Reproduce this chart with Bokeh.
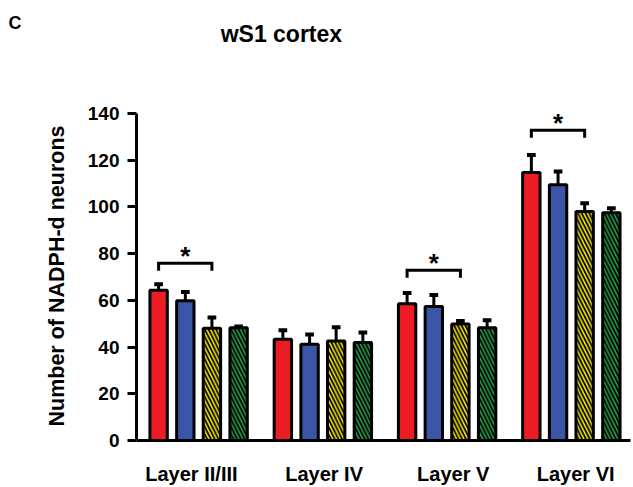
import numpy as np
from bokeh.plotting import figure
from bokeh.models import Range1d, FixedTicker, ColumnDataSource, Title
from bokeh.core.properties import value
from bokeh.embed import file_html
from bokeh.resources import INLINE

categories = ["Layer II/III", "Layer IV", "Layer V", "Layer VI"]
series_names = ["red", "blue", "yellow", "green"]
red_vals = [64.3, 43.3, 58.5, 114.7]
red_err = [2.5, 3.9, 4.6, 7.5]
blue_vals = [59.8, 41.2, 57.3, 109.4]
blue_err = [3.7, 4.2, 5.0, 5.7]
yellow_vals = [48.0, 42.6, 49.8, 98.0]
yellow_err = [4.6, 5.8, 1.3, 3.5]
green_vals = [48.2, 41.9, 48.2, 97.4]
green_err = [0.6, 4.3, 3.3, 2.0]
y_ticks = [0, 20, 40, 60, 80, 100, 120, 140]
sig_groups = [0, 2, 3]
sig_y = [75.8, 72.8, 132.7]
title_text = "wS1 cortex"
panel_letter = "C"
y_label = "Number of NADPH-d neurons"

FONT = "Liberation Sans"
colors = ["#ed1c24", "#3a55a5", "#fbee00", "#28a04a"]
hatches = [" ", " ", "\\", "\\"]
offsets = [-0.322, -0.107, 0.107, 0.322]
label_shift = [-0.058, 0.01, 0.049, 0.035]
vals = [red_vals, blue_vals, yellow_vals, green_vals]
errs = [red_err, blue_err, yellow_err, green_err]

p = figure(width=633, height=487, output_backend="svg", toolbar_location=None,
           x_range=Range1d(0, 3.976), y_range=Range1d(0, 180.55),
           min_border_left=136, min_border_right=3, min_border_top=18, min_border_bottom=46)
p.outline_line_color = None
p.xgrid.visible = False
p.ygrid.visible = False

p.title.text = panel_letter
p.title.align = "left"
p.title.offset = -128
p.title.standoff = -28
p.title.text_font = FONT
p.title.text_font_style = "bold"
p.title.text_font_size = "18px"
p.title.text_color = "black"

centers = np.arange(len(categories)) + 0.5
bw = 0.14
for i in range(4):
    xs = centers + offsets[i]
    top = np.array(vals[i])
    etop = top + np.array(errs[i])
    p.segment(x0=xs, y0=top, x1=xs, y1=etop, line_color="black", line_width=3)
    p.segment(x0=xs - 0.035, y0=etop, x1=xs + 0.035, y1=etop, line_color="black", line_width=4)
    src = ColumnDataSource(dict(x=xs, top=top))
    kw = {}
    if hatches[i] != " ":
        kw = dict(hatch_pattern=hatches[i], hatch_color="black", hatch_scale=7.5, hatch_weight=1.8)
    p.vbar(x="x", top="top", bottom=0, width=bw, source=src, fill_color=colors[i],
           line_color="black", line_width=3, **kw)

# significance brackets
bx, by = [], []
sx, sy = [], []
for g, yv in zip(sig_groups, sig_y):
    x1 = centers[g] + offsets[0]
    x2 = centers[g] + offsets[2]
    bx.append([x1, x1, x2, x2])
    by.append([yv - 3.2, yv, yv, yv - 3.2])
    sx.append((x1 + x2) / 2)
    sy.append(yv)
p.multi_line(xs=bx, ys=by, line_color="black", line_width=3, line_join="miter")
p.text(x=sx, y=sy, text=["*"] * len(sx), text_align="center", text_baseline="alphabetic",
       text_font=value(FONT), text_font_style="bold", text_font_size="26px", y_offset=-7)

# chart title inside the (extended) frame
p.text(x=[1.166], y=[169.9], text=[title_text], text_align="center", text_baseline="alphabetic",
       text_font=value(FONT), text_font_style="bold", text_font_size="23px", text_color="black",
       y_offset=-9)

# axes
p.yaxis.bounds = (0, 140)
p.yaxis.ticker = FixedTicker(ticks=y_ticks)
p.yaxis.axis_line_width = 3
p.yaxis.major_tick_line_width = 3
p.yaxis.major_tick_out = 9
p.yaxis.major_tick_in = 0
p.yaxis.minor_tick_line_color = None
p.yaxis.major_label_text_font = FONT
p.yaxis.major_label_text_font_style = "bold"
p.yaxis.major_label_text_font_size = "19px"
p.yaxis.major_label_text_color = "black"
p.yaxis.major_label_standoff = 8

p.add_layout(Title(text=y_label, align="left", offset=14, standoff=32, text_font=FONT,
                   text_font_style="bold", text_font_size="21.5px", text_color="black"), "left")

tick_pos = [float(c + s) for c, s in zip(centers, label_shift)]
p.xaxis.ticker = FixedTicker(ticks=tick_pos)
p.xaxis.major_label_overrides = {t: n for t, n in zip(tick_pos, categories)}
p.xaxis.axis_line_width = 3
p.xaxis.major_tick_line_color = None
p.xaxis.major_tick_out = 0
p.xaxis.major_tick_in = 0
p.xaxis.minor_tick_line_color = None
p.xaxis.major_label_text_font = FONT
p.xaxis.major_label_text_font_style = "bold"
p.xaxis.major_label_text_font_size = "20px"
p.xaxis.major_label_text_color = "black"
p.xaxis.major_label_standoff = 22
p.xaxis.axis_label_standoff = 0

open("out.html", "w").write(file_html(p, INLINE))
